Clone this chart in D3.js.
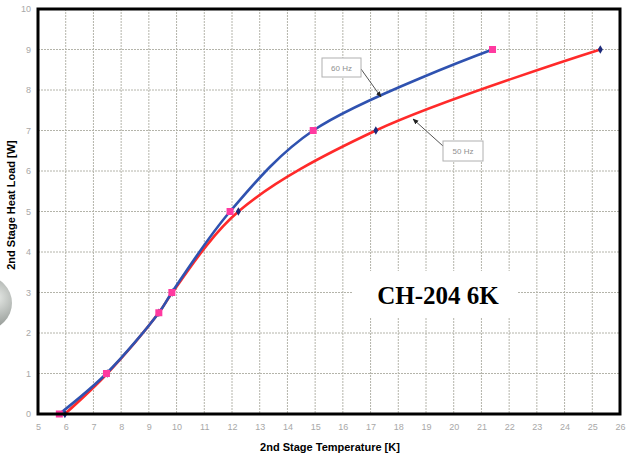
<!DOCTYPE html>
<html><head><meta charset="utf-8">
<script src="https://cdn.jsdelivr.net/npm/d3@7"></script>
<style>body{margin:0;background:#fff}svg{display:block}</style>
</head><body>
<svg id="c" width="626" height="459"></svg>
<script>
const xTicks = [5,6,7,8,9,10,11,12,13,14,15,16,17,18,19,20,21,22,23,24,25,26];
const yTicks = [0,1,2,3,4,5,6,7,8,9,10];
const s60T = [5.77,7.47,9.36,9.83,11.93,14.93,21.4];
const s60Q = [0,1,2.5,3,5,7,9];
const s50T = [5.97,7.5,9.36,9.85,12.23,17.19,25.29];
const s50Q = [0,1,2.5,3,5,7,9];
const titleText = "CH-204 6K";
const xTitle = "2nd Stage Temperature [K]";
const yTitle = "2nd Stage Heat Load [W]";

const svg = d3.select("#c");
const x = d3.scaleLinear().domain([5,26]).range([38,620]);
const y = d3.scaleLinear().domain([0,10]).range([414,9]);

// decorative hole-punch shadow
const defs = svg.append("defs");
const rg = defs.append("radialGradient").attr("id","hole").attr("cx","0.7").attr("cy","0.4").attr("r","0.7");
rg.append("stop").attr("offset","0").attr("stop-color","#e8ebe8");
rg.append("stop").attr("offset","0.6").attr("stop-color","#a9aeaa");
rg.append("stop").attr("offset","1").attr("stop-color","#7d827e");
svg.append("circle").attr("cx",-15).attr("cy",303).attr("r",27).attr("fill","url(#hole)");

// grid
const g = svg.append("g");
g.selectAll(".gx").data(xTicks.slice(1,-1)).join("line")
  .attr("x1",d=>x(d)).attr("x2",d=>x(d)).attr("y1",y(10)).attr("y2",y(0))
  .attr("stroke","#b4b4aa").attr("stroke-width",1).attr("stroke-dasharray","2,1");
g.selectAll(".gy").data(yTicks.slice(1,-1)).join("line")
  .attr("y1",d=>y(d)).attr("y2",d=>y(d)).attr("x1",x(5)).attr("x2",x(26))
  .attr("stroke","#b4b4aa").attr("stroke-width",1).attr("stroke-dasharray","2,1");

// white label background
svg.append("rect").attr("x",352).attr("y",271).attr("width",165).attr("height",47).attr("fill","#fff");

// tick labels via axes
const xAxis = svg.append("g").attr("transform",`translate(0,${y(0)})`)
  .call(d3.axisBottom(x).tickValues(xTicks).tickSize(0).tickPadding(10).tickFormat(d3.format("d")));
const yAxis = svg.append("g").attr("transform",`translate(${x(5)},0)`)
  .call(d3.axisLeft(y).tickValues(yTicks).tickSize(0).tickPadding(7).tickFormat(d3.format("d")));
[xAxis,yAxis].forEach(a=>{
  a.select(".domain").remove();
  a.selectAll("text").attr("fill","#a8a8a8").style("font-family","Liberation Sans, Arial").style("font-size","9px");
});

// curves
const line = d3.line().x(d=>x(d[0])).y(d=>y(d[1])).curve(d3.curveCatmullRom.alpha(0.5));
const d50 = s50T.map((t,i)=>[t,s50Q[i]]);
const d60 = s60T.map((t,i)=>[t,s60Q[i]]);
svg.append("path").attr("d",line(d50)).attr("fill","none").attr("stroke","#ff2a2a").attr("stroke-width",2.6);
svg.selectAll(".m50").data(d50).join("path")
  .attr("d",d3.symbol(d3.symbolDiamond,22)())
  .attr("transform",d=>`translate(${x(d[0])},${y(d[1])})`).attr("fill","#1d2a7a");
svg.append("path").attr("d",line(d60)).attr("fill","none").attr("stroke","#2f52b0").attr("stroke-width",2.6);
svg.selectAll(".m60").data(d60).join("rect")
  .attr("x",d=>x(d[0])-3.5).attr("y",d=>y(d[1])-3.5).attr("width",7).attr("height",7).attr("fill","#ff3aa0");

// frame
svg.append("rect").attr("x",x(5)).attr("y",y(10)).attr("width",x(26)-x(5)).attr("height",y(0)-y(10))
  .attr("fill","none").attr("stroke","#000").attr("stroke-width",3);

// annotations
defs.append("marker").attr("id","ah").attr("viewBox","0 0 10 10").attr("refX",9).attr("refY",5)
  .attr("markerWidth",6).attr("markerHeight",6).attr("orient","auto")
  .append("path").attr("d","M0,1L10,5L0,9z").attr("fill","#222");
function note(bx,by,bw,bh,txt,lx1,ly1,lx2,ly2){
  svg.append("line").attr("x1",lx1).attr("y1",ly1).attr("x2",lx2).attr("y2",ly2)
    .attr("stroke","#555").attr("stroke-width",1).attr("marker-end","url(#ah)");
  svg.append("rect").attr("x",bx).attr("y",by).attr("width",bw).attr("height",bh)
    .attr("fill","#fff").attr("stroke","#b0b0b0").attr("stroke-width",1);
  svg.append("text").attr("x",bx+bw/2).attr("y",by+bh/2+3).attr("text-anchor","middle")
    .attr("fill","#909090").style("font-family","Liberation Sans, Arial").style("font-size","8px").text(txt);
}
note(322,58,39,19,"60 Hz",361,69,381,97);
note(443,141,40,20,"50 Hz",443,146,413,119);

svg.append("text").attr("x",438).attr("y",304).attr("text-anchor","middle")
  .style("font-family","Liberation Serif, Times New Roman").style("font-weight","bold").style("font-size","25px")
  .attr("fill","#000").text(titleText);

svg.append("text").attr("x",330).attr("y",451).attr("text-anchor","middle")
  .style("font-family","Liberation Sans, Arial").style("font-weight","bold").style("font-size","11px").text(xTitle);
svg.append("text").attr("transform","translate(15,205) rotate(-90)").attr("text-anchor","middle")
  .style("font-family","Liberation Sans, Arial").style("font-weight","bold").style("font-size","11px").text(yTitle);
</script>
</body></html>
